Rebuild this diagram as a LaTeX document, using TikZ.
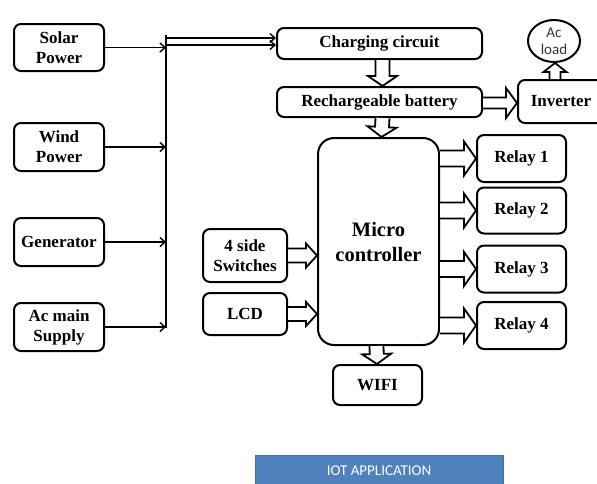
\documentclass[tikz,border=0pt]{standalone}
\usepackage{fontspec}
\setmainfont{Liberation Serif}
\newfontfamily\calib{Carlito}
\usetikzlibrary{shapes.geometric,arrows.meta,calc}
\definecolor{iotblue}{HTML}{4F81BD}
\definecolor{iotedge}{HTML}{41719C}
\tikzset{
  box/.style={draw, line width=2pt, rounded corners=7pt, align=center, inner sep=0pt,
    font=\bfseries\fontsize{17}{20}\selectfont},
  thinarr/.style={line width=1.6pt, -{Straight Barb[length=5pt,width=9pt,line width=1.4pt]}},
  thinline/.style={line width=1.6pt},
  blockarr/.style={draw, line width=1.8pt, fill=white, line join=miter},
}
\newcommand{\blockarrow}[5]{%
  \coordinate (baS) at (#1);
  \coordinate (baE) at (#2);
  \coordinate (baH) at ($(baE)!#5!(baS)$);
  \draw[blockarr] ($(baS)!#3!90:(baE)$) -- ($(baH)!#3!90:(baE)$) -- ($(baH)!#4!90:(baE)$)
    -- (baE) -- ($(baH)!#4!-90:(baE)$) -- ($(baH)!#3!-90:(baE)$) -- ($(baS)!#3!-90:(baE)$);
}
\begin{document}
\begin{tikzpicture}[x=1pt,y=-1pt]
\useasboundingbox (0,0) rectangle (597,483);
% sources
\node[box, minimum width=90pt, minimum height=47pt] (solar) at (59,47.5) {Solar\\Power};
\node[box, minimum width=90pt, minimum height=48pt] (wind) at (59,147) {Wind\\Power};
\node[box, minimum width=90pt, minimum height=48pt] (gen) at (59,242) {Generator};
\node[box, minimum width=90pt, minimum height=48pt] (acmain) at (59,327) {Ac main\\Supply};
% chain
\node[box, minimum width=205pt, minimum height=31pt] (charge) at (379.5,43.5) {Charging circuit};
\node[box, minimum width=205pt, minimum height=30pt] (battery) at (379.5,102) {Rechargeable battery};
\node[box, minimum width=86pt, minimum height=43pt] (inverter) at (561,101.5) {Inverter};
\node[draw, line width=2pt, ellipse, minimum width=52pt, minimum height=42pt, inner sep=0pt,
  align=center, font=\calib\fontsize{15}{17}\selectfont, text=black!80] (acload) at (554,41) {Ac\\load};
\node[box, rounded corners=16pt, minimum width=121pt, minimum height=207pt,
  font=\bfseries\fontsize{20.5}{25}\selectfont] (micro) at (378.5,241.5) {Micro\\controller};
% relays
\node[box, minimum width=89pt, minimum height=47pt] (relay1) at (521.5,158.5) {Relay 1};
\node[box, minimum width=89pt, minimum height=46pt] (relay2) at (521.5,210.5) {Relay 2};
\node[box, minimum width=89pt, minimum height=47pt] (relay3) at (521.5,269) {Relay 3};
\node[box, minimum width=89pt, minimum height=47pt] (relay4) at (521.5,325.5) {Relay 4};
% inputs
\node[box, minimum width=84pt, minimum height=53pt] (switches) at (245,255.5) {4 side\\Switches};
\node[box, minimum width=84pt, minimum height=42pt] (lcd) at (245,314) {LCD};
\node[box, minimum width=89pt, minimum height=40pt] (wifi) at (377.5,385) {WIFI};
% IOT label
\node[draw=iotedge, fill=iotblue, line width=1pt, minimum width=248pt, minimum height=31pt,
  inner sep=0pt, text=white, font=\calib\fontsize{15}{18}\selectfont] (iot) at (379,470.5) {IOT APPLICATION};
% bus
\coordinate (busTop) at (166,35);
\coordinate (busBot) at (166,328);
\draw[thinline] (busTop) -- (busBot);
\draw[thinarr] (solar.east) -- (solar.east -| busTop);
\draw[thinarr] (wind.east) -- (wind.east -| busTop);
\draw[thinarr] (gen.east) -- (gen.east -| busTop);
\draw[thinarr] (acmain.east) -- (acmain.east -| busTop);
\coordinate (chU) at ($(charge.west)+(0,-5.5)$);
\coordinate (chL) at ($(charge.west)+(0,1.5)$);
\draw[thinarr] (chU -| busTop) -- (chU);
\draw[thinarr] (chL -| busTop) -- (chL);
% block arrows
\blockarrow{$(charge.south)+(3,0)$}{$(battery.north)+(3,0)$}{7pt}{14.5pt}{10pt}
\blockarrow{$(battery.south)+(3,0)$}{$(micro.north)+(3,0)$}{7pt}{14.5pt}{10pt}
\blockarrow{$(battery.east)+(0,1)$}{$(inverter.west |- battery.east)+(0,1)$}{5.5pt}{15pt}{11pt}
\blockarrow{$(inverter.north -| acload.south)+(1,0)$}{$(acload.south)+(1,0)$}{5.5pt}{11.5pt}{9pt}
\blockarrow{micro.east |- relay1.west}{relay1.west}{8pt}{17pt}{12pt}
\blockarrow{micro.east |- relay2.west}{relay2.west}{8pt}{17pt}{12pt}
\blockarrow{micro.east |- relay3.west}{relay3.west}{8pt}{17pt}{12pt}
\blockarrow{micro.east |- relay4.west}{relay4.west}{8pt}{17pt}{12pt}
\blockarrow{switches.east}{micro.west |- switches.east}{7pt}{12pt}{11pt}
\blockarrow{lcd.east}{micro.west |- lcd.east}{7pt}{12pt}{11pt}
\blockarrow{$(micro.south)+(-2,0)$}{$(wifi.north)+(-0.5,0)$}{7pt}{14.5pt}{10pt}
\end{tikzpicture}
\end{document}
